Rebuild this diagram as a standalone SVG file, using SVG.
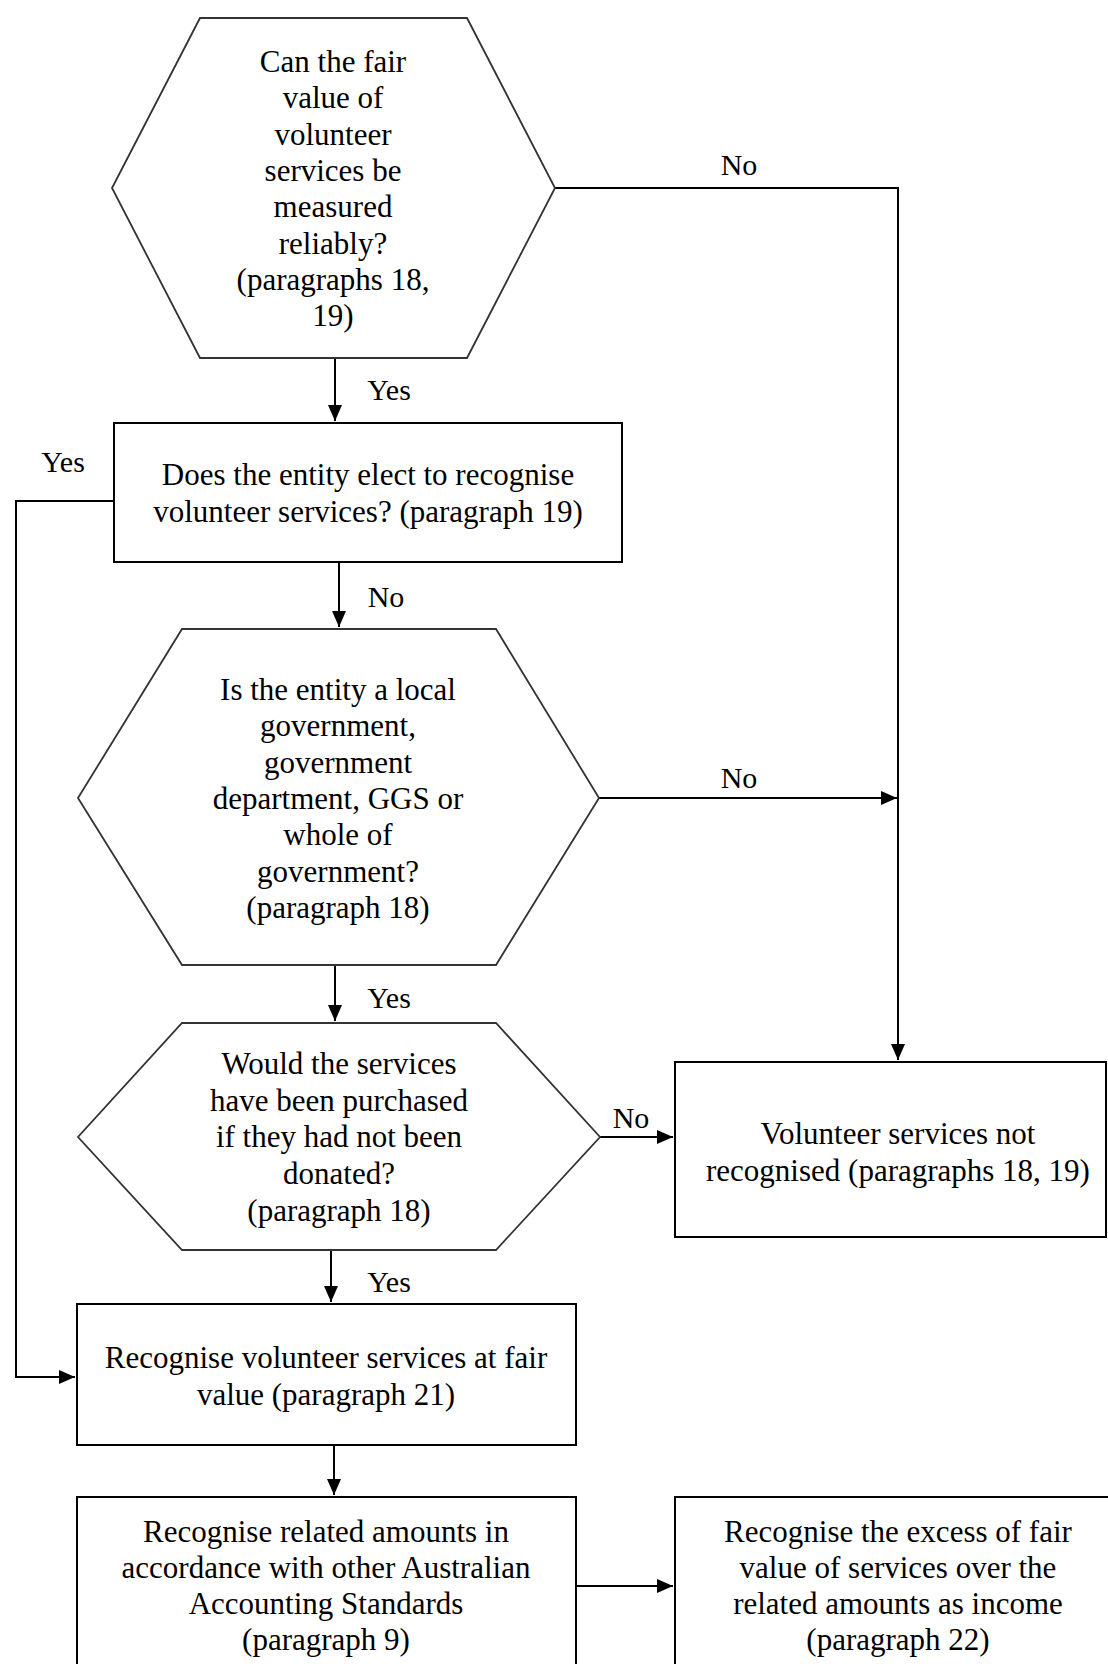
<svg xmlns="http://www.w3.org/2000/svg" width="1108" height="1664" viewBox="0 0 1108 1664">
<defs>
<marker id="arr" markerUnits="userSpaceOnUse" markerWidth="17" markerHeight="14" refX="16" refY="7" orient="auto">
<path d="M0,0 L16,7 L0,14 Z" fill="#000"/>
</marker>
<style>
.hex{fill:#fff;stroke:#333;stroke-width:1.8}
.box{fill:#fff;stroke:#000;stroke-width:2}
.t{font-family:"Liberation Serif","Times New Roman",serif;font-size:31px;fill:#000;text-anchor:middle}
.lbl{font-family:"Liberation Serif","Times New Roman",serif;font-size:30px;fill:#000;text-anchor:middle}
.c{fill:none;stroke:#000;stroke-width:2}
</style>
</defs>
<rect width="1108" height="1664" fill="#fff"/>

<g id="connectors">
<path class="c" d="M335,358 V421" marker-end="url(#arr)"/>
<path class="c" d="M114,501 H16 V1377 H75" marker-end="url(#arr)"/>
<path class="c" d="M339,562 V627" marker-end="url(#arr)"/>
<path class="c" d="M555,188 H898 V1060" marker-end="url(#arr)"/>
<path class="c" d="M599,798 H897" marker-end="url(#arr)"/>
<path class="c" d="M335,965 V1021" marker-end="url(#arr)"/>
<path class="c" d="M600,1137 H673" marker-end="url(#arr)"/>
<path class="c" d="M331,1250 V1302" marker-end="url(#arr)"/>
<path class="c" d="M334,1445 V1495" marker-end="url(#arr)"/>
<path class="c" d="M576,1586 H673" marker-end="url(#arr)"/>
<text class="lbl" x="739" y="175">No</text>
<text class="lbl" x="389" y="400">Yes</text>
<text class="lbl" x="63" y="472">Yes</text>
<text class="lbl" x="386" y="607">No</text>
<text class="lbl" x="739" y="788">No</text>
<text class="lbl" x="389" y="1008">Yes</text>
<text class="lbl" x="631" y="1128">No</text>
<text class="lbl" x="389" y="1292">Yes</text>
</g>

<g id="q-fair-value">
<polygon class="hex" points="200,18 467,18 555,188 467,358 200,358 112,188"/>
<text class="t" x="333" y="72">Can the fair</text>
<text class="t" x="333" y="108">value of</text>
<text class="t" x="333" y="145">volunteer</text>
<text class="t" x="333" y="181">services be</text>
<text class="t" x="333" y="217">measured</text>
<text class="t" x="333" y="254">reliably?</text>
<text class="t" x="333" y="290">(paragraphs 18,</text>
<text class="t" x="333" y="326">19)</text>
</g>

<g id="q-elect">
<rect class="box" x="114" y="423" width="508" height="139"/>
<text class="t" x="368" y="485">Does the entity elect to recognise</text>
<text class="t" x="368" y="522">volunteer services? (paragraph 19)</text>
</g>

<g id="q-government">
<polygon class="hex" points="182,629 496,629 599,798 496,965 182,965 78,798"/>
<text class="t" x="338" y="700">Is the entity a local</text>
<text class="t" x="338" y="736">government,</text>
<text class="t" x="338" y="773">government</text>
<text class="t" x="338" y="809">department, GGS or</text>
<text class="t" x="338" y="845">whole of</text>
<text class="t" x="338" y="882">government?</text>
<text class="t" x="338" y="918">(paragraph 18)</text>
</g>

<g id="q-purchased">
<polygon class="hex" points="182,1023 496,1023 600,1137 496,1250 182,1250 78,1137"/>
<text class="t" x="339" y="1074">Would the services</text>
<text class="t" x="339" y="1111">have been purchased</text>
<text class="t" x="339" y="1147">if they had not been</text>
<text class="t" x="339" y="1184">donated?</text>
<text class="t" x="339" y="1221">(paragraph 18)</text>
</g>

<g id="not-recognised">
<rect class="box" x="675" y="1062" width="431" height="175"/>
<text class="t" x="898" y="1144">Volunteer services not</text>
<text class="t" x="898" y="1181">recognised (paragraphs 18, 19)</text>
</g>

<g id="recognise-fair-value">
<rect class="box" x="77" y="1304" width="499" height="141"/>
<text class="t" x="326" y="1368">Recognise volunteer services at fair</text>
<text class="t" x="326" y="1405">value (paragraph 21)</text>
</g>

<g id="related-amounts">
<rect class="box" x="77" y="1497" width="499" height="200"/>
<text class="t" x="326" y="1542">Recognise related amounts in</text>
<text class="t" x="326" y="1578">accordance with other Australian</text>
<text class="t" x="326" y="1614">Accounting Standards</text>
<text class="t" x="326" y="1650">(paragraph 9)</text>
</g>

<g id="excess-income">
<rect class="box" x="675" y="1497" width="445" height="200"/>
<text class="t" x="898" y="1542">Recognise the excess of fair</text>
<text class="t" x="898" y="1578">value of services over the</text>
<text class="t" x="898" y="1614">related amounts as income</text>
<text class="t" x="898" y="1650">(paragraph 22)</text>
</g>
</svg>
